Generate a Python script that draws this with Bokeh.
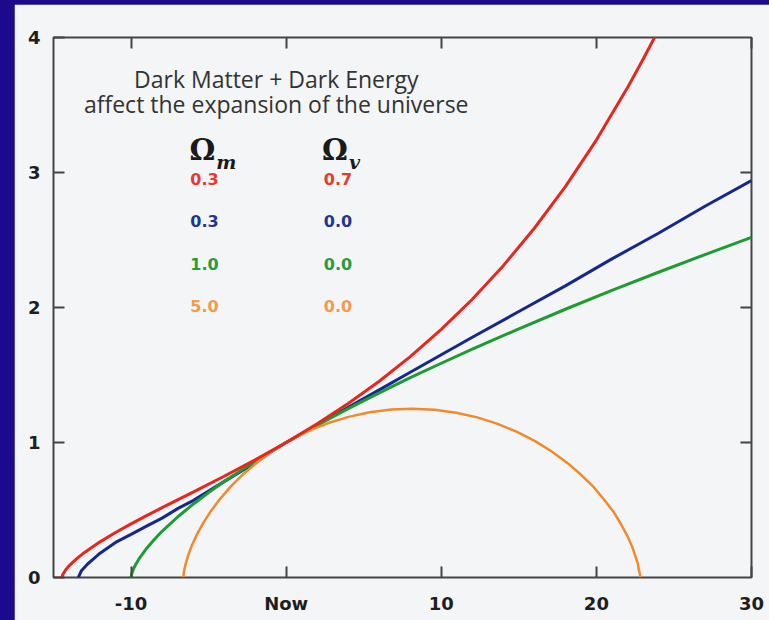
from bokeh.plotting import figure
from bokeh.models import Range1d, LinearAxis, FixedTicker, Label, CustomLabelingPolicy
from bokeh.embed import file_html
from bokeh.resources import INLINE

# ---- data (time in Gyr relative to now, scale factor) ----
red_t = [-14.46, -14.4, -14.2, -14.0, -13.5, -13.0, -12.0, -11.0, -10.0, -9.0, -8.0, -7.0, -6.0, -4.0, -2.0, 0.0, 2.0, 4.0, 6.0, 8.0, 10.0, 12.0, 14.0, 16.0, 18.0, 20.0, 22.0, 23.0, 24.0]
red_a = [0.0, 0.022, 0.059, 0.086, 0.140, 0.186, 0.264, 0.333, 0.397, 0.458, 0.517, 0.575, 0.633, 0.750, 0.871, 1.0, 1.139, 1.289, 1.454, 1.636, 1.838, 2.061, 2.310, 2.587, 2.895, 3.240, 3.627, 3.837, 4.054]

blue_t = [-13.4, -13.3, -13.2, -12.8, -12.4, -12.0, -11.0, -10.0, -9.0, -8.0, -7.0, -6.0, -5.0, -4.0, -3.0, -2.0, -1.0, 0.0, 2.0, 4.0, 6.0, 8.0, 10.0, 12.0, 15.0, 18.0, 21.0, 24.0, 27.0, 30.0]
blue_a = [0.0, 0.025, 0.05, 0.10, 0.14, 0.18, 0.26, 0.32, 0.38, 0.44, 0.51, 0.57, 0.64, 0.71, 0.78, 0.85, 0.93, 1.0, 1.13, 1.26, 1.39, 1.52, 1.65, 1.78, 1.97, 2.16, 2.36, 2.55, 2.75, 2.94]

green_t = [-10.0, -9.95, -9.9, -9.8, -9.7, -9.5, -9.0, -8.5, -8.0, -7.0, -6.0, -5.0, -4.0, -2.0, 0.0, 2.0, 4.0, 6.0, 8.0, 10.0, 12.0, 15.0, 18.0, 21.0, 24.0, 27.0, 30.0]
green_a = [0.0, 0.029, 0.046, 0.074, 0.097, 0.136, 0.215, 0.282, 0.342, 0.448, 0.543, 0.630, 0.711, 0.862, 1.0, 1.129, 1.251, 1.368, 1.480, 1.587, 1.692, 1.842, 1.987, 2.127, 2.261, 2.392, 2.520]

orange_t = [-6.628, -6.625, -6.607, -6.558, -6.462, -6.308, -6.081, -5.772, -5.372, -4.874, -4.273, -3.566, -2.755, -1.842, -0.831, 0.272, 1.456, 2.711, 4.025, 5.384, 6.773, 8.098, 9.580, 10.967, 12.321, 13.630, 14.877, 16.051, 17.145, 18.145, 19.048, 19.846, 20.541, 21.138, 21.618, 22.008, 22.307, 22.514, 22.672, 22.736, 22.807, 22.823, 22.824]
orange_a = [0.0, 0.007, 0.028, 0.062, 0.109, 0.168, 0.237, 0.314, 0.399, 0.488, 0.581, 0.675, 0.767, 0.856, 0.941, 1.018, 1.086, 1.144, 1.190, 1.224, 1.244, 1.250, 1.242, 1.221, 1.186, 1.138, 1.079, 1.010, 0.931, 0.847, 0.757, 0.667, 0.570, 0.481, 0.389, 0.305, 0.228, 0.159, 0.103, 0.056, 0.025, 0.006, 0.0]

x_ticks = [-10, 0, 10, 20, 30]
x_tick_labels = ["-10", "Now", "10", "20", "30"]
y_ticks = [0, 1, 2, 3, 4]

omega_m = ["0.3", "0.3", "1.0", "5.0"]
omega_v = ["0.7", "0.0", "0.0", "0.0"]

line_colors = ["#e8261e", "#15288c", "#1f9a34", "#f08a2c"]
text_colors = ["#e8392e", "#1e3592", "#2a9b3c", "#f39a4c"]

BG = "#f4f5f6"
FRAME = "#444444"
TICKTXT = "#1e1e1e"

p = figure(width=755, height=616, x_range=Range1d(-15, 30), y_range=Range1d(0, 4),
           output_backend="svg", toolbar_location=None,
           min_border_left=39, min_border_right=18, min_border_top=33, min_border_bottom=43)
p.background_fill_color = BG
p.border_fill_color = BG
p.outline_line_color = FRAME
p.outline_line_width = 2
p.xgrid.visible = False
p.ygrid.visible = False

xa = p.xaxis[0]
xa.ticker = FixedTicker(ticks=x_ticks)
xa.major_label_overrides = {t: l for t, l in zip(x_ticks, x_tick_labels)}
ya = p.yaxis[0]
ya.ticker = FixedTicker(ticks=y_ticks)

for ax in (xa, ya):
    ax.axis_line_color = None
    ax.major_tick_in = 11
    ax.major_tick_out = 0
    ax.major_tick_line_color = FRAME
    ax.major_tick_line_width = 2
    ax.minor_tick_line_color = None
    ax.major_label_text_font = "DejaVu Sans"
    ax.major_label_text_font_style = "bold"
    ax.major_label_text_font_size = "18px"
    ax.major_label_text_color = TICKTXT
xa.major_label_standoff = 15
ya.major_label_standoff = 13

top = LinearAxis(ticker=FixedTicker(ticks=x_ticks))
right = LinearAxis(ticker=FixedTicker(ticks=y_ticks[1:4]))
for ax in (top, right):
    ax.axis_line_color = None
    ax.major_tick_in = 11
    ax.major_tick_out = 0
    ax.major_tick_line_color = FRAME
    ax.major_tick_line_width = 2
    ax.minor_tick_line_color = None
    ax.major_label_policy = CustomLabelingPolicy(code="return []")
    ax.major_label_standoff = 0
p.add_layout(top, "above")
p.add_layout(right, "right")

p.line(blue_t, blue_a, line_color=line_colors[1], line_width=3)
p.line(green_t, green_a, line_color=line_colors[2], line_width=3)
p.line(orange_t, orange_a, line_color=line_colors[3], line_width=2.5)
p.line(red_t, red_a, line_color=line_colors[0], line_width=3)

# Title text
for txt, yy in (("Dark Matter + Dark Energy", 3.689), ("affect the expansion of the universe", 3.505)):
    p.add_layout(Label(x=-0.64, y=yy, text=txt, text_align="center", text_baseline="middle",
                       text_font="Open Sans", text_font_size="23px", text_color="#333333"))

# Omega headers
for xo, sub in ((-5.40, "m"), (3.15, "v")):
    p.add_layout(Label(x=xo, y=3.163, text="\u03a9", text_align="center", text_baseline="middle",
                       text_font="DejaVu Serif", text_font_style="bold", text_font_size="29px",
                       text_color="#1a1a1a"))
    p.add_layout(Label(x=xo + 0.90, y=3.075, text=sub, text_align="left", text_baseline="middle",
                       text_font="DejaVu Serif", text_font_style="bold italic", text_font_size="19px",
                       text_color="#1a1a1a"))

# Parameter table
for i in range(len(omega_m)):
    yy = 2.955 - 0.315 * i
    for xx, txt in ((-5.27, omega_m[i]), (3.34, omega_v[i])):
        p.add_layout(Label(x=xx, y=yy, text=txt, text_align="center", text_baseline="middle",
                           text_font="DejaVu Sans", text_font_style="bold", text_font_size="16px",
                           text_color=text_colors[i]))

html = file_html(p, INLINE)
style = ("<style>html,body{margin:0 !important;background-color:#1c0a8c !important;}"
         "body{padding:4px 0 0 14px !important;box-sizing:border-box;}</style>")
html = html.replace("</head>", style + "</head>", 1)
open("out.html", "w").write(html)
